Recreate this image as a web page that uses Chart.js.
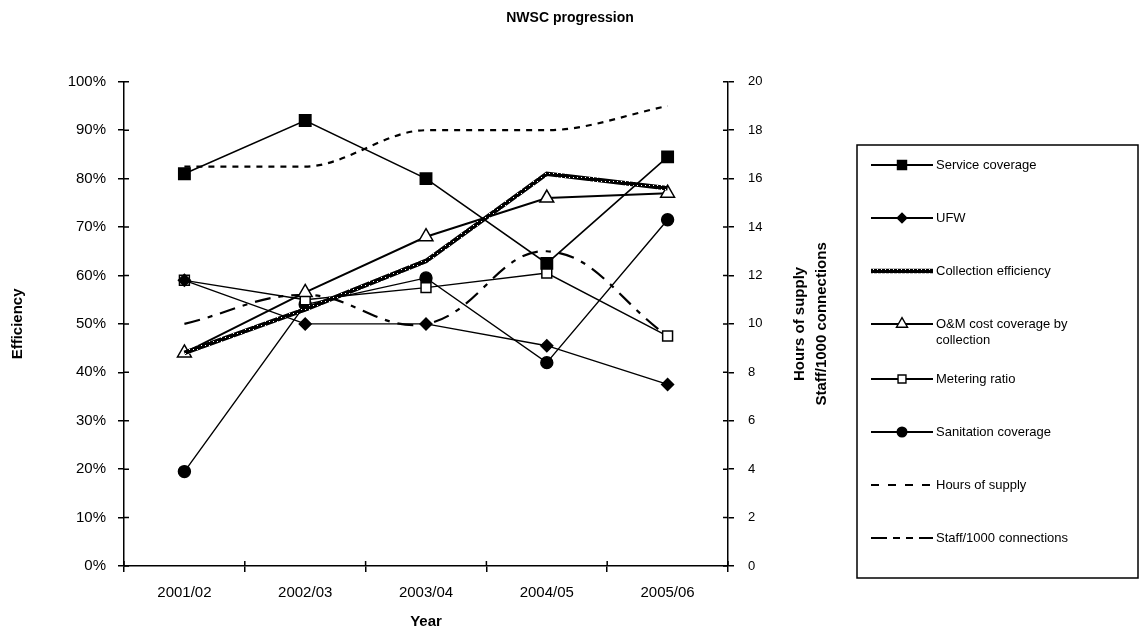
<!DOCTYPE html>
<html>
<head>
<meta charset="utf-8">
<script src="https://cdn.jsdelivr.net/npm/chart.js@4/dist/chart.umd.min.js"></script>
<style>
  html, body { margin: 0; padding: 0; background: #fff; }
  #wrap { width: 1140px; height: 640px; position: relative; }
</style>
</head>
<body>
<div id="wrap"><canvas id="chart"></canvas></div>
<script>
const years = ['2001/02', '2002/03', '2003/04', '2004/05', '2005/06'];

// left axis, percent
const serviceCoverage = [81, 92, 80, 62.5, 84.5];
const ufw = [59, 50, 50, 45.5, 37.5];
const collectionEfficiency = [44, 53, 63, 81, 78];
const omCostCoverage = [44, 56.5, 68, 76, 77];
const meteringRatio = [59, 55, 57.5, 60.5, 47.5];
const sanitationCoverage = [19.5, 54, 59.5, 42, 71.5];

// right axis
const hoursOfSupply = [16.5, 16.5, 18, 18, 19];
const staffPer1000 = [10, 11.2, 10, 13, 9.5];

const rightTitles = ['Hours of supply', 'Staff/1000 connections'];

const FONT = "'Liberation Sans', Arial, sans-serif";
Chart.defaults.font.family = FONT;
Chart.defaults.color = '#000';

// grainy pattern for the thick collection efficiency line
function hatch() {
    const c = document.createElement('canvas');
    c.width = 4; c.height = 4;
    const g = c.getContext('2d');
    g.fillStyle = '#000';
    g.fillRect(0, 0, 4, 4);
    g.fillStyle = '#fff';
    g.fillRect(1, 1, 1, 1);
    return g.createPattern(c, 'repeat');
}

const base = {
    borderColor: '#000',
    backgroundColor: '#000',
    pointBorderColor: '#000',
    borderWidth: 1.4,
    tension: 0,
    fill: false,
    yAxisID: 'y'
};

const datasets = [
    { ...base, label: 'Service coverage', data: serviceCoverage, pointStyle: 'rect', pointRadius: 8, borderWidth: 1.6 },
    { ...base, label: 'UFW', data: ufw, pointStyle: 'rectRot', pointRadius: 6 },
    { ...base, label: 'Collection efficiency', data: collectionEfficiency, borderColor: hatch(), borderWidth: 4.5, pointRadius: 0 },
    { ...base, label: 'O&M cost coverage by collection', data: omCostCoverage, pointStyle: 'triangle', pointRadius: 8, backgroundColor: '#fff', pointBorderWidth: 1.5, borderWidth: 2 },
    { ...base, label: 'Metering ratio', data: meteringRatio, pointStyle: 'rect', pointRadius: 7, backgroundColor: '#fff', pointBorderWidth: 1.5 },
    { ...base, label: 'Sanitation coverage', data: sanitationCoverage, pointStyle: 'circle', pointRadius: 6 },
    { ...base, label: 'Hours of supply', data: hoursOfSupply, yAxisID: 'y1', borderDash: [6, 6], borderWidth: 2.2, pointRadius: 0, cubicInterpolationMode: 'monotone' },
    { ...base, label: 'Staff/1000 connections', data: staffPer1000, yAxisID: 'y1', borderDash: [16, 8, 5, 8], borderWidth: 2.2, pointRadius: 0, tension: 0.4 }
];

const legendDash = [null, null, null, null, null, null, [8, 9], [16, 6, 7, 6, 7, 6]];

const extras = {
    id: 'extras',
    afterDraw(chart) {
        const ctx = chart.ctx;
        const area = chart.chartArea;
        const sy = chart.scales.y, sy1 = chart.scales.y1, sx = chart.scales.x;
        ctx.save();
        ctx.strokeStyle = '#000';
        ctx.lineWidth = 1.5;
        // inner half of the crossing tick marks
        ctx.beginPath();
        sy.ticks.forEach(t => {
            const y = sy.getPixelForValue(t.value);
            ctx.moveTo(area.left, y); ctx.lineTo(area.left + 5, y);
        });
        sy1.ticks.forEach(t => {
            const y = sy1.getPixelForValue(t.value);
            ctx.moveTo(area.right - 5, y); ctx.lineTo(area.right, y);
        });
        for (let i = 0; i <= years.length; i++) {
            const x = sx.getPixelForValue(i - 0.5);
            ctx.moveTo(x, area.bottom); ctx.lineTo(x, area.bottom - 5);
        }
        ctx.stroke();

        // right axis titles, reading upwards
        const midY = (area.top + area.bottom) / 2;
        ctx.fillStyle = '#000';
        ctx.font = 'bold 15px ' + FONT;
        ctx.textAlign = 'center';
        ctx.textBaseline = 'middle';
        rightTitles.forEach((t, i) => {
            ctx.save();
            ctx.translate(800 + i * 22, midY);
            ctx.rotate(-Math.PI / 2);
            ctx.fillText(t, 0, 0);
            ctx.restore();
        });

        // legend box
        const bx = 857, by = 145, bw = 281, bh = 433;
        ctx.lineWidth = 1.5;
        ctx.strokeRect(bx, by, bw, bh);
        ctx.font = '13px ' + FONT;
        ctx.textAlign = 'left';
        let y = by + 20;
        chart.data.datasets.forEach((ds, k) => {
            const x0 = bx + 14, x1 = bx + 76, xm = (x0 + x1) / 2;
            ctx.save();
            ctx.strokeStyle = ds.borderColor;
            ctx.lineWidth = k === 2 ? 4.5 : 1.8;
            ctx.setLineDash(legendDash[k] || []);
            ctx.beginPath();
            ctx.moveTo(x0, y); ctx.lineTo(x1, y);
            ctx.stroke();
            ctx.restore();
            if (ds.pointRadius > 0) {
                ctx.save();
                ctx.fillStyle = ds.backgroundColor;
                ctx.strokeStyle = '#000';
                ctx.lineWidth = 1.4;
                Chart.helpers.drawPoint(ctx, {
                    pointStyle: ds.pointStyle,
                    radius: ds.pointRadius * 0.8,
                    borderWidth: 1.4,
                    rotation: 0
                }, xm, y);
                ctx.restore();
            }
            // wrap long labels
            const words = ds.label.split(' ');
            const lines = [];
            let cur = '';
            words.forEach(w => {
                const test = cur ? cur + ' ' + w : w;
                if (ctx.measureText(test).width > 185 && cur) { lines.push(cur); cur = w; }
                else cur = test;
            });
            lines.push(cur);
            lines.forEach((l, i) => ctx.fillText(l, x1 + 3, y + i * 16));
            y += 53 + (lines.length - 1) * 2;
        });
        ctx.restore();
    }
};

new Chart(document.getElementById('chart'), {
    type: 'line',
    data: { labels: years, datasets: datasets },
    options: {
        responsive: true,
        maintainAspectRatio: false,
        animation: false,
        layout: { padding: { left: 0, right: 0, top: 0, bottom: 4 } },
        plugins: {
            legend: { display: false },
            tooltip: { enabled: false },
            title: {
                display: true,
                text: 'NWSC progression',
                font: { size: 14, weight: 'bold' },
                padding: { top: 10, bottom: 55 }
            }
        },
        scales: {
            x: {
                offset: true,
                grid: { offset: true, drawOnChartArea: false, color: '#000', lineWidth: 1.5, tickLength: 6 },
                border: { color: '#000', width: 1.5 },
                ticks: { font: { size: 15 }, padding: 12, maxRotation: 0 },
                title: { display: true, text: 'Year', font: { size: 15, weight: 'bold' }, padding: { top: 0, bottom: 5 } },
                afterFit(scale) { scale.height = 70; }
            },
            y: {
                position: 'left',
                min: 0, max: 100,
                ticks: { stepSize: 10, font: { size: 15 }, padding: 12, callback: v => v + '%' },
                grid: { drawOnChartArea: false, color: '#000', lineWidth: 1.5, tickLength: 6 },
                border: { color: '#000', width: 1.5 },
                title: { display: true, text: 'Efficiency', font: { size: 15, weight: 'bold' }, padding: { top: 9, bottom: 0 } },
                afterFit(scale) { scale.width = 124; }
            },
            y1: {
                position: 'right',
                min: 0, max: 20,
                ticks: { stepSize: 2, font: { size: 13 }, padding: 14 },
                grid: { drawOnChartArea: false, color: '#000', lineWidth: 1.5, tickLength: 6 },
                border: { color: '#000', width: 1.5 },
                afterFit(scale) { scale.width = 412; }
            }
        }
    },
    plugins: [extras]
});
</script>
</body>
</html>
